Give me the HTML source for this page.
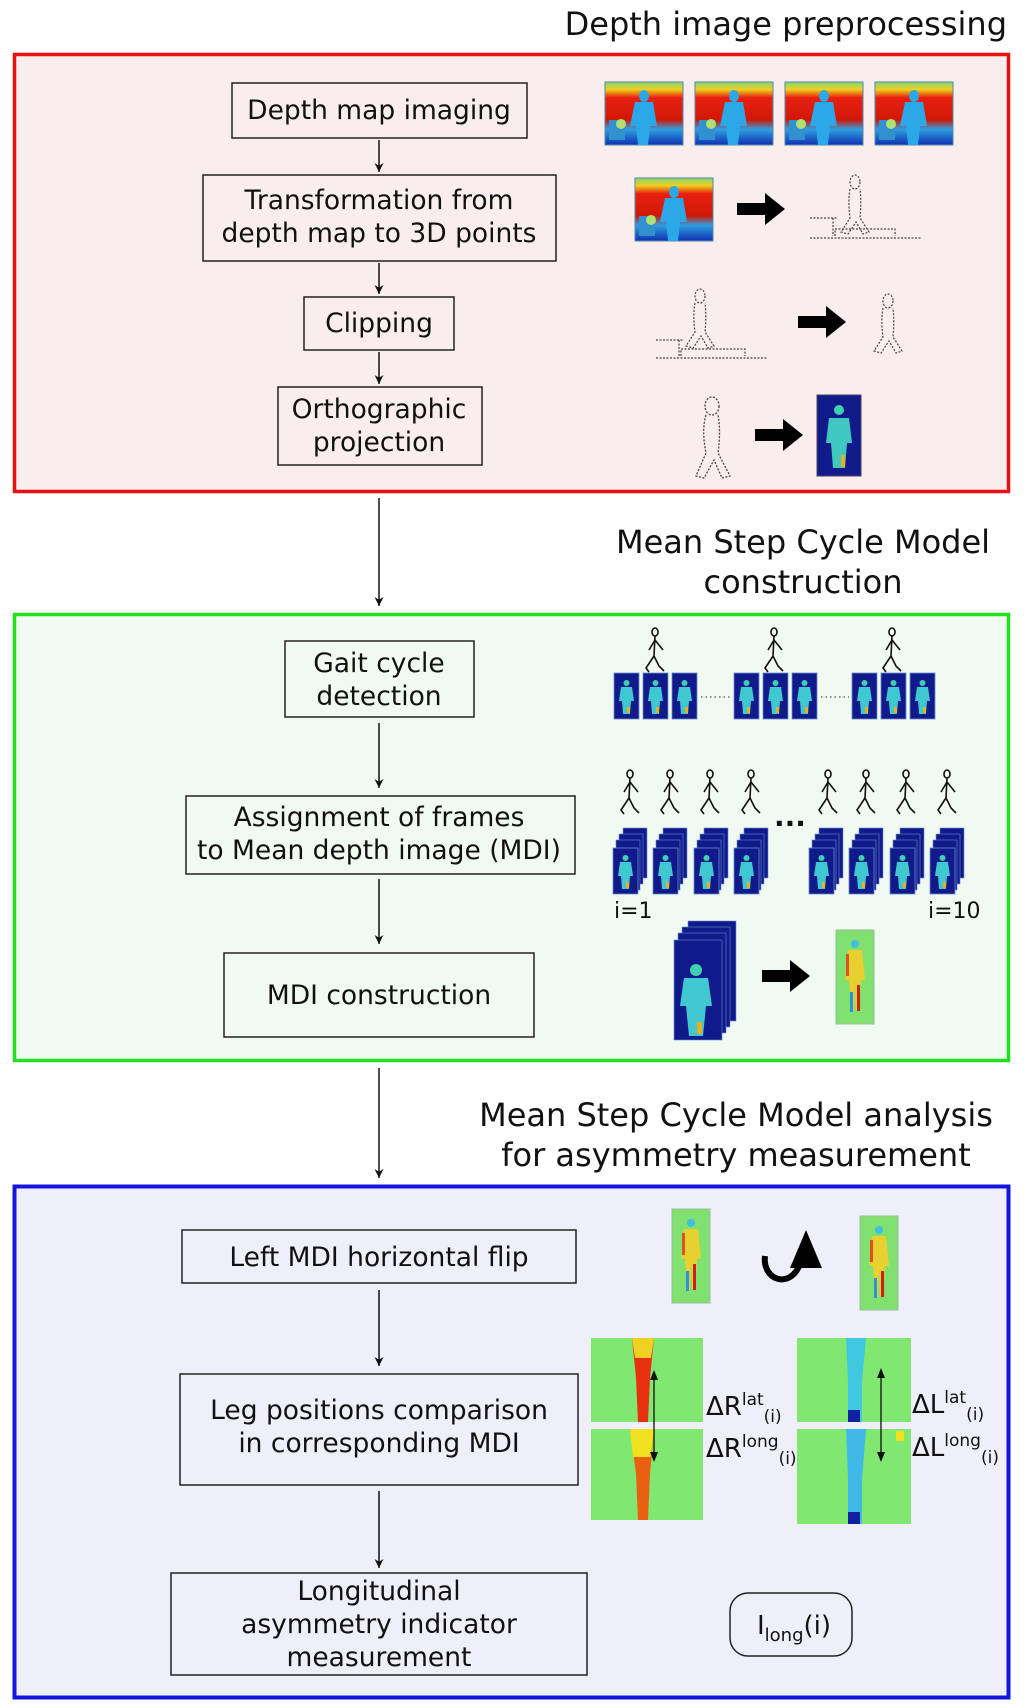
<!DOCTYPE html>
<html><head><meta charset="utf-8"><style>
html,body{margin:0;padding:0;background:#fff}
svg{display:block}
text{font-family:"DejaVu Sans","Liberation Sans",sans-serif;fill:#111}
</style></head><body>
<svg width="1024" height="1706" viewBox="0 0 1024 1706" xmlns="http://www.w3.org/2000/svg">
<defs>
<marker id="ah" viewBox="0 0 10 10" refX="10" refY="5" markerWidth="9" markerHeight="14" orient="auto" markerUnits="userSpaceOnUse"><path d="M0,0 L10,5 L0,10 L3,5 Z" fill="#111"/></marker>
<linearGradient id="dm" x1="0" y1="0" x2="0" y2="1"><stop offset="0" stop-color="#7fd870"/><stop offset="0.12" stop-color="#f0d020"/><stop offset="0.25" stop-color="#e82010"/><stop offset="0.6" stop-color="#d01808"/><stop offset="0.75" stop-color="#30a0e0"/><stop offset="1" stop-color="#1030b0"/></linearGradient>
<g id="depth">
<rect x="0" y="0" width="78" height="63" fill="url(#dm)" stroke="#58a" stroke-width="1"/>
<ellipse cx="39" cy="14" rx="5" ry="6" fill="#2aa8e8"/>
<path d="M30,20 h18 l4,24 h-7 l-2,19 h-10 l-2,-19 h-6z" fill="#2aa8e8"/>
<rect x="4" y="38" width="16" height="20" fill="#3090d0"/>
<circle cx="16" cy="42" r="5" fill="#b0e070"/>
</g>
<g id="bf">
<rect x="0" y="0" width="25" height="46" fill="#101a8a" stroke="#6a8ad0" stroke-width="0.8"/>
<circle cx="12.5" cy="10" r="3" fill="#40d0b0"/>
<path d="M7,14 h11 l2,14 h-3 l-1,13 h-7 l-1,-13 h-3z" fill="#40c8d0"/>
<rect x="13" y="34" width="3" height="6" fill="#e8b020"/>
</g>
<g id="stack">
<rect x="10" y="0" width="24" height="50" fill="#101a8a" stroke="#6a8ad0" stroke-width="0.6"/>
<rect x="6" y="6" width="24" height="50" fill="#101a8a" stroke="#6a8ad0" stroke-width="0.6"/>
<rect x="3" y="12" width="24" height="50" fill="#101a8a" stroke="#6a8ad0" stroke-width="0.6"/>
<use href="#bf" x="0" y="20"/>
</g>
<g id="stick" fill="none" stroke="#111" stroke-width="1.6">
<ellipse cx="0" cy="4" rx="3" ry="4"/>
<path d="M0,8 L-1,28 M0,12 L-6,22 M0,12 L8,22 M-1,28 L-9,40 L-6,44 M-1,28 L4,38 L9,43"/>
</g>
<g id="dotfig" fill="none" stroke="#444" stroke-width="1.3" stroke-dasharray="2,1.5">
<ellipse cx="0" cy="8" rx="7" ry="9"/>
<path d="M-6,17 C-10,30 -8,45 -6,55 L-16,78 L-8,80 L2,62 L10,80 L18,78 L6,55 C8,40 8,28 6,17"/>
</g>
<g id="sidefig" fill="none" stroke="#444" stroke-width="1.2" stroke-dasharray="2,1.5">
<ellipse cx="0" cy="6" rx="5" ry="7"/>
<path d="M-5,13 C-7,24 -6,34 -5,42 L-14,56 L-7,58 L1,46 L8,58 L14,56 L5,42 C6,32 6,22 5,13"/>
</g>
<g id="greenmdi">
<rect x="0" y="0" width="38" height="94" fill="#80e070" stroke="#9b9" stroke-width="1"/>
<circle cx="19" cy="14" r="4" fill="#40c0e0"/>
<path d="M12,20 h14 l3,30 h-4 l-2,30 h-3 l-1,-28 l-1,28 h-3 l-2,-30 h-4z" fill="#e8d030"/>
<rect x="10" y="24" width="3" height="22" fill="#e05020"/>
<rect x="21" y="55" width="3" height="26" fill="#d02010"/>
<rect x="14" y="62" width="3" height="20" fill="#3090e0"/>
</g>
<g id="bigarrow"><path d="M0,-6 h28 v-10 l20,16 l-20,16 v-10 h-28z" fill="#000"/></g>
</defs>

<!-- Section 1 -->
<text x="1007" y="35" font-size="32" text-anchor="end">Depth image preprocessing</text>
<rect x="14.5" y="54.5" width="994" height="437" fill="#f9eded" stroke="#e81010" stroke-width="3.5"/>

<g fill="none" stroke="#222" stroke-width="1.5">
<rect x="232" y="83" width="295" height="55"/>
<rect x="203" y="175" width="353" height="86"/>
<rect x="304" y="297" width="150" height="53"/>
<rect x="278" y="387" width="204" height="78"/>
</g>
<g font-size="26.5" text-anchor="middle">
<text x="379" y="119">Depth map imaging</text>
<text x="379" y="209">Transformation from</text>
<text x="379" y="242">depth map to 3D points</text>
<text x="379" y="332">Clipping</text>
<text x="379" y="418">Orthographic</text>
<text x="379" y="451">projection</text>
</g>
<g stroke="#111" stroke-width="1.5" marker-end="url(#ah)">
<line x1="379" y1="140" x2="379" y2="172"/>
<line x1="379" y1="263" x2="379" y2="294"/>
<line x1="379" y1="352" x2="379" y2="384"/>
</g>
<use href="#depth" x="605" y="82"/>
<use href="#depth" x="695" y="82"/>
<use href="#depth" x="785" y="82"/>
<use href="#depth" x="875" y="82"/>
<use href="#depth" x="635" y="178"/>
<use href="#bigarrow" x="737" y="209"/>
<use href="#sidefig" x="855" y="176"/>
<g stroke="#444" stroke-width="1.2" stroke-dasharray="2,1.5" fill="none">
<path d="M810,218 h28 M833,218 v18 M810,238 h112 M835,236 v-7 h60 v7"/>
<path d="M656,340 h28 M679,340 v17 M656,358 h112 M681,356 v-7 h64 v7"/>
</g>
<use href="#sidefig" x="700" y="290"/>
<use href="#bigarrow" x="798" y="322"/>
<use href="#sidefig" x="888" y="295"/>
<use href="#dotfig" x="712" y="398"/>
<use href="#bigarrow" x="755" y="435"/>
<rect x="817" y="395" width="44" height="81" fill="#101a8a" stroke="#446"/>
<circle cx="839" cy="410" r="5" fill="#40d0b0"/>
<path d="M829,418 h20 l3,25 h-5 l-2,25 h-12 l-2,-25 h-5z" fill="#40c8c0"/>
<rect x="841" y="455" width="4" height="12" fill="#e8b020"/>

<line x1="379" y1="498" x2="379" y2="606" stroke="#111" stroke-width="1.5" marker-end="url(#ah)"/>

<!-- Section 2 -->
<text x="803" y="553" font-size="32" text-anchor="middle">Mean Step Cycle Model</text>
<text x="803" y="593" font-size="32" text-anchor="middle">construction</text>
<rect x="14.5" y="614.5" width="994" height="446" fill="#f0faf0" stroke="#20e020" stroke-width="3.5"/>
<g fill="none" stroke="#222" stroke-width="1.5">
<rect x="285" y="641" width="189" height="76"/>
<rect x="186" y="796" width="389" height="78"/>
<rect x="224" y="953" width="310" height="84"/>
</g>
<g font-size="26.5" text-anchor="middle">
<text x="379" y="672">Gait cycle</text>
<text x="379" y="705">detection</text>
<text x="379" y="826">Assignment of frames</text>
<text x="379" y="859">to Mean depth image (MDI)</text>
<text x="379" y="1004">MDI construction</text>
</g>
<g stroke="#111" stroke-width="1.5" marker-end="url(#ah)">
<line x1="379" y1="723" x2="379" y2="788"/>
<line x1="379" y1="879" x2="379" y2="944"/>
</g>
<use href="#bf" x="614" y="673"/><use href="#bf" x="643" y="673"/><use href="#bf" x="672" y="673"/>
<use href="#bf" x="734" y="673"/><use href="#bf" x="763" y="673"/><use href="#bf" x="792" y="673"/>
<use href="#bf" x="852" y="673"/><use href="#bf" x="881" y="673"/><use href="#bf" x="910" y="673"/>
<g stroke="#555" stroke-width="1.2" stroke-dasharray="1.5,3"><line x1="701" y1="697" x2="731" y2="697"/><line x1="821" y1="697" x2="849" y2="697"/></g>
<use href="#stick" x="655" y="628"/><use href="#stick" x="774" y="628"/><use href="#stick" x="892" y="628"/>
<use href="#stick" x="630" y="770"/><use href="#stick" x="670" y="770"/><use href="#stick" x="710" y="770"/><use href="#stick" x="751" y="770"/>
<use href="#stick" x="828" y="770"/><use href="#stick" x="866" y="770"/><use href="#stick" x="906" y="770"/><use href="#stick" x="947" y="770"/>
<text x="790" y="826" font-size="28" text-anchor="middle" font-weight="bold">...</text>
<use href="#stack" x="613" y="828"/><use href="#stack" x="653" y="828"/><use href="#stack" x="694" y="828"/><use href="#stack" x="734" y="828"/>
<use href="#stack" x="809" y="828"/><use href="#stack" x="849" y="828"/><use href="#stack" x="890" y="828"/><use href="#stack" x="930" y="828"/>
<text x="614" y="918" font-size="22">i=1</text>
<text x="928" y="918" font-size="22">i=10</text>
<rect x="688" y="921" width="48" height="100" fill="#101a8a" stroke="#6a8ad0" stroke-width="0.6"/>
<rect x="682" y="927" width="48" height="100" fill="#101a8a" stroke="#6a8ad0" stroke-width="0.6"/>
<rect x="678" y="933" width="48" height="100" fill="#101a8a" stroke="#6a8ad0" stroke-width="0.6"/>
<rect x="674" y="940" width="48" height="100" fill="#101a8a" stroke="#6a8ad0" stroke-width="0.6"/>
<circle cx="696" cy="970" r="6" fill="#40d0b0"/>
<path d="M684,978 h24 l4,28 h-6 l-3,30 h-14 l-3,-30 h-6z" fill="#40c8d0"/>
<rect x="697" y="1022" width="5" height="12" fill="#e8b020"/>
<use href="#bigarrow" x="762" y="976"/>
<use href="#greenmdi" x="836" y="930"/>

<line x1="379" y1="1068" x2="379" y2="1178" stroke="#111" stroke-width="1.5" marker-end="url(#ah)"/>

<!-- Section 3 -->
<text x="736" y="1126" font-size="32" text-anchor="middle">Mean Step Cycle Model analysis</text>
<text x="736" y="1166" font-size="32" text-anchor="middle">for asymmetry measurement</text>
<rect x="14.5" y="1186.5" width="994" height="511" fill="#efeffa" stroke="#1414e0" stroke-width="4"/>
<g fill="none" stroke="#222" stroke-width="1.5">
<rect x="182" y="1230" width="394" height="53"/>
<rect x="180" y="1374" width="398" height="111"/>
<rect x="171" y="1573" width="416" height="102"/>
<rect x="730" y="1593" width="122" height="63" rx="18"/>
</g>
<g font-size="26.5" text-anchor="middle">
<text x="379" y="1266">Left MDI horizontal flip</text>
<text x="379" y="1419">Leg positions comparison</text>
<text x="379" y="1452">in corresponding MDI</text>
<text x="379" y="1600">Longitudinal</text>
<text x="379" y="1633">asymmetry indicator</text>
<text x="379" y="1666">measurement</text>
</g>
<text x="757" y="1634" font-size="26">I<tspan font-size="18" dy="7">long</tspan><tspan dy="-7">(i)</tspan></text>
<g stroke="#111" stroke-width="1.5" marker-end="url(#ah)">
<line x1="379" y1="1290" x2="379" y2="1366"/>
<line x1="379" y1="1491" x2="379" y2="1568"/>
</g>
<use href="#greenmdi" x="672" y="1209"/>
<use href="#greenmdi" x="860" y="1216"/>
<path d="M765,1256 C762,1280 790,1290 800,1264" fill="none" stroke="#000" stroke-width="6"/>
<path d="M790,1268 L806,1230 L822,1268 Z" fill="#000"/>
<g>
<rect x="591" y="1338" width="112" height="84" fill="#80e870"/>
<path d="M632,1338 h22 l-4,40 l-2,44 h-10 l-2,-44z" fill="#e83010"/>
<path d="M632,1338 h22 l-3,20 h-16z" fill="#f0d020"/>
<rect x="591" y="1429" width="112" height="91" fill="#80e870"/>
<path d="M630,1429 h24 l-4,45 l-2,46 h-10 l-2,-46z" fill="#e86010"/>
<path d="M630,1429 h24 l-3,28 h-18z" fill="#f0e020"/>
<rect x="797" y="1338" width="114" height="84" fill="#80e870"/>
<path d="M846,1338 h20 l-4,44 l0,40 h-14 l0,-40z" fill="#40c8e0"/>
<rect x="848" y="1410" width="12" height="12" fill="#1020a0"/>
<rect x="797" y="1429" width="114" height="95" fill="#80e870"/>
<path d="M846,1429 h20 l-4,50 l0,45 h-14 l0,-45z" fill="#40b8e8"/>
<rect x="848" y="1512" width="12" height="12" fill="#1020a0"/>
<rect x="896" y="1431" width="8" height="10" fill="#f0e020"/>
</g>
<g stroke="#111" stroke-width="1.3">
<line x1="654" y1="1372" x2="654" y2="1460"/>
<line x1="881" y1="1370" x2="881" y2="1460"/>
</g>
<path d="M650,1380 L654,1370 L658,1380 Z M650,1452 L654,1462 L658,1452 Z M877,1378 L881,1368 L885,1378 Z M877,1452 L881,1462 L885,1452 Z" fill="#111"/>
<g font-size="26">
<text x="706" y="1415">ΔR<tspan font-size="17" dy="-10">lat</tspan><tspan font-size="17" dy="17">(i)</tspan></text>
<text x="706" y="1457">ΔR<tspan font-size="17" dy="-10">long</tspan><tspan font-size="17" dy="17">(i)</tspan></text>
<text x="912" y="1413">ΔL<tspan font-size="17" dy="-10">lat</tspan><tspan font-size="17" dy="17">(i)</tspan></text>
<text x="912" y="1456">ΔL<tspan font-size="17" dy="-10">long</tspan><tspan font-size="17" dy="17">(i)</tspan></text>
</g>
</svg>
</body></html>
